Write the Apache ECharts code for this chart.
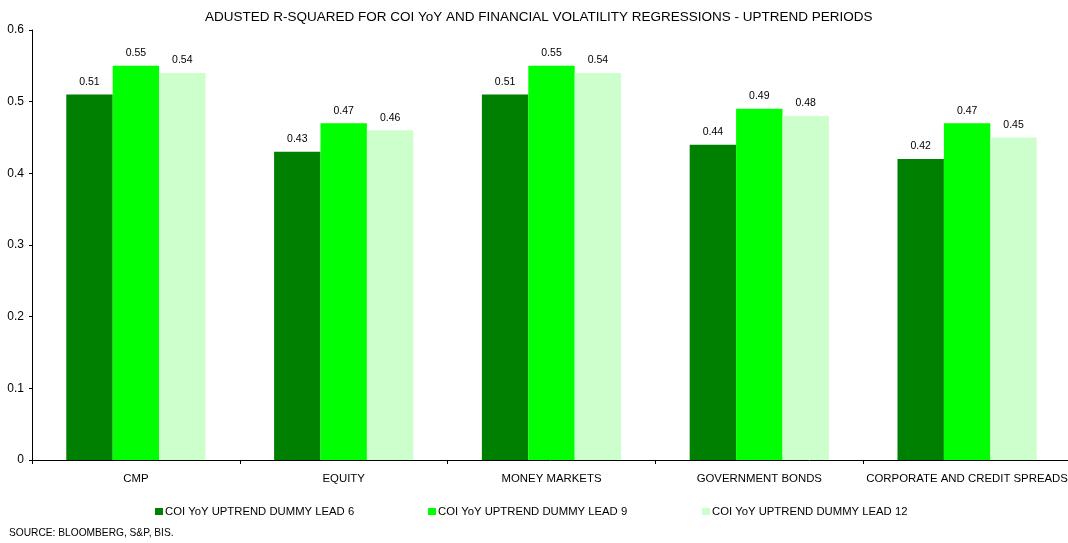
<!DOCTYPE html>
<html>
<head>
<meta charset="utf-8">
<script src="https://cdn.jsdelivr.net/npm/echarts@6/dist/echarts.min.js"></script>
<style>
  html, body { margin: 0; padding: 0; background: #fff; }
  #chart { width: 1068px; height: 543px; }
</style>
</head>
<body>
<div id="chart"></div>
<script>
const categories = ['CMP', 'EQUITY', 'MONEY MARKETS', 'GOVERNMENT BONDS', 'CORPORATE AND CREDIT SPREADS'];
const seriesNames = ['COI YoY UPTREND DUMMY LEAD 6', 'COI YoY UPTREND DUMMY LEAD 9', 'COI YoY UPTREND DUMMY LEAD 12'];
const lead6 = [0.51, 0.43, 0.51, 0.44, 0.42];
const lead9 = [0.55, 0.47, 0.55, 0.49, 0.47];
const lead12 = [0.54, 0.46, 0.54, 0.48, 0.45];
const yTicks = [0, 0.1, 0.2, 0.3, 0.4, 0.5, 0.6];

const colors = ['#008000', '#00ff00', '#ccffcc'];
const font = 'Liberation Sans, Arial, sans-serif';
// left edge of each legend entry
const legendLeft = [155, 428, 702];

const chart = echarts.init(document.getElementById('chart'), null, { renderer: 'canvas' });

const seriesData = [lead6, lead9, lead12];
chart.setOption({
  animation: false,
  textStyle: { fontFamily: font },
  title: [
    {
      text: 'ADUSTED R-SQUARED FOR COI YoY AND FINANCIAL VOLATILITY REGRESSIONS - UPTREND PERIODS',
      left: 205, top: 10, padding: 0,
      textStyle: { fontSize: 13.5, fontWeight: 'normal', color: '#000', fontFamily: font }
    },
    {
      text: 'SOURCE: BLOOMBERG, S&P, BIS.',
      left: 4, top: 523,
      textStyle: { fontSize: 10.2, fontWeight: 'normal', color: '#000', fontFamily: font }
    }
  ],
  legend: seriesNames.map((name, i) => ({
    data: [name],
    left: legendLeft[i], top: 506, padding: 0,
    itemWidth: 8, itemHeight: 7,
    icon: 'rect',
    textStyle: { fontSize: 11.3, color: '#000', fontFamily: font, padding: [0, 0, 0, -3] }
  })),
  grid: { left: 32, right: -3, top: 30, bottom: 83, containLabel: false, outerBoundsMode: 'none' },
  xAxis: {
    type: 'category',
    data: categories,
    axisLine: { lineStyle: { color: '#000', width: 1 } },
    axisTick: { show: true, length: 4, lineStyle: { color: '#000' } },
    axisLabel: { fontSize: 11.4, color: '#000', margin: 13, fontFamily: font, interval: 0 }
  },
  yAxis: {
    type: 'value',
    min: yTicks[0], max: yTicks[yTicks.length - 1], interval: 0.1,
    splitLine: { show: false },
    axisLine: { show: true, lineStyle: { color: '#000', width: 1 } },
    axisTick: { show: true, length: 3, lineStyle: { color: '#000' } },
    axisLabel: {
      fontSize: 12, color: '#000', margin: 8, fontFamily: font,
      formatter: v => String(+v.toFixed(1))
    }
  },
  series: seriesData.map((d, i) => ({
    name: seriesNames[i],
    type: 'bar',
    data: d,
    barGap: '0%',
    barCategoryGap: '33%',
    itemStyle: { color: colors[i] },
    label: {
      show: true, position: 'top', distance: 7,
      fontSize: 10.5, color: '#000', fontFamily: font,
      formatter: p => p.value.toFixed(2)
    }
  }))
});
</script>
</body>
</html>
